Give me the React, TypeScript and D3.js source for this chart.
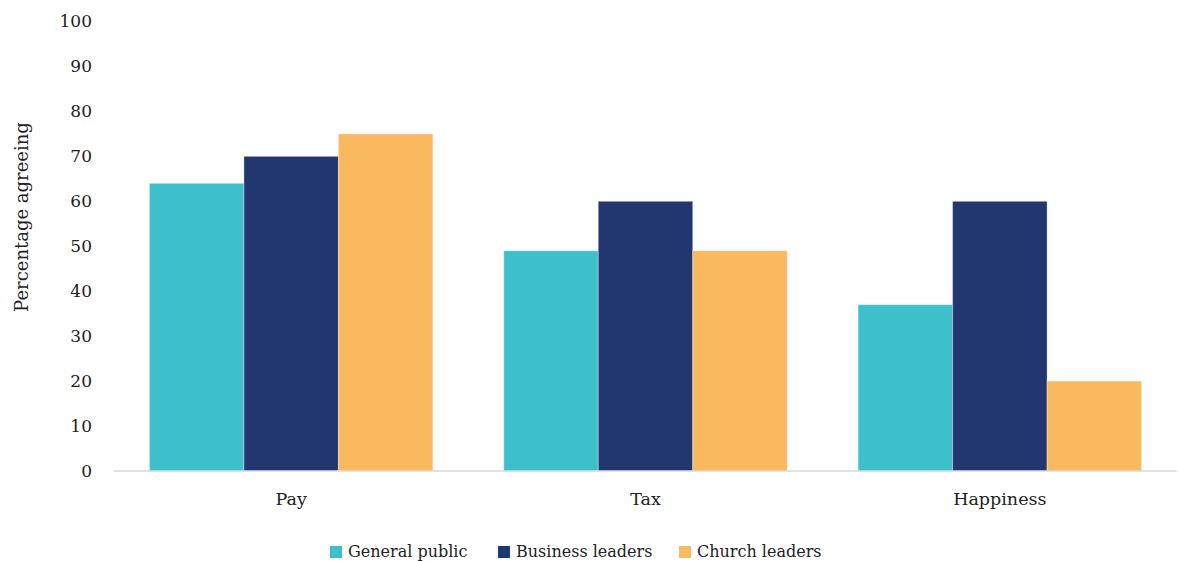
import React from "react";
import * as d3 from "d3";

const categories = ["Pay", "Tax", "Happiness"];
const seriesNames = ["General public", "Business leaders", "Church leaders"];
const generalPublic = [64, 49, 37];
const businessLeaders = [70, 60, 60];
const churchLeaders = [75, 49, 20];
const yTicks = [0, 10, 20, 30, 40, 50, 60, 70, 80, 90, 100];
const colors = ["#3DBFCC", "#22366F", "#FBB95F"];

const W = 1178;
const H = 561;
const FONT = "'DejaVu Serif', serif";

export default function App() {
  const series = [generalPublic, businessLeaders, churchLeaders];
  const x0 = d3.scaleBand<string>().domain(categories).range([114, 1177]).paddingInner(0.2).paddingOuter(0.1);
  const x1 = d3.scaleBand<string>().domain(seriesNames).range([0, x0.bandwidth()]);
  const y = d3.scaleLinear().domain([0, 100]).range([471, 21.5]);

  const legendX = [330, 498, 679];
  const ts = { fontFamily: FONT };

  return (
    <svg width={W} height={H} style={{ position: "absolute", left: 0, top: 0, background: "#fff" }}>
      {categories.map((c, ci) =>
        seriesNames.map((s, si) => {
          const v = series[si][ci];
          return (
            <rect
              key={c + s}
              x={(x0(c) as number) + (x1(s) as number)}
              y={y(v)}
              width={x1.bandwidth()}
              height={y(0) - y(v)}
              fill={colors[si]}
              stroke="#ffffff"
              strokeOpacity={0.35}
              strokeWidth={1}
            />
          );
        })
      )}
      <line x1={114} x2={1177} y1={y(0)} y2={y(0)} stroke="#d9d9d9" strokeWidth={1.5} />
      {yTicks.map((t) => (
        <text key={t} x={92} y={y(t)} dy="0.35em" textAnchor="end" fontSize={17} fill="#222" style={ts}>
          {t}
        </text>
      ))}
      {categories.map((c) => (
        <text
          key={c}
          x={(x0(c) as number) + x0.bandwidth() / 2}
          y={505}
          textAnchor="middle"
          fontSize={17.5}
          fill="#222"
          style={ts}
        >
          {c}
        </text>
      ))}
      <text
        transform="translate(22,217) rotate(-90)"
        textAnchor="middle"
        dy="0.35em"
        fontSize={18}
        fill="#222"
        style={ts}
      >
        Percentage agreeing
      </text>
      {seriesNames.map((s, i) => (
        <g key={s} transform={`translate(${legendX[i]},0)`}>
          <rect x={0} y={546} width={12} height={12} fill={colors[i]} />
          <text x={18} y={557} fontSize={16} fill="#222" style={ts}>
            {s}
          </text>
        </g>
      ))}
    </svg>
  );
}
